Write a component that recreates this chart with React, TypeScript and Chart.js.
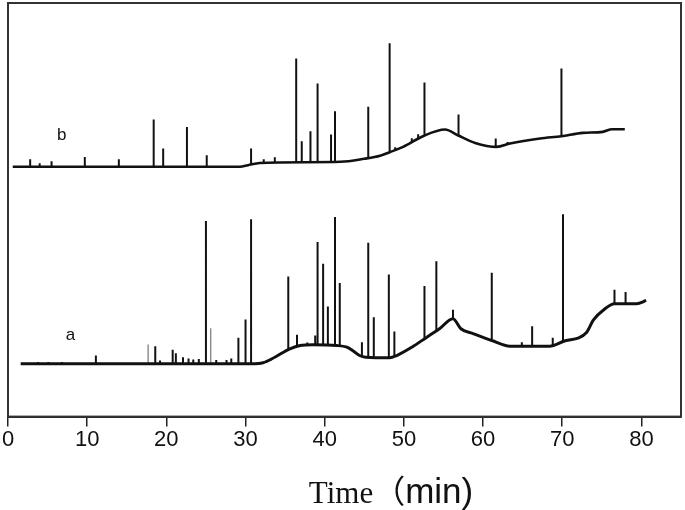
import React, { useEffect, useRef } from "react";
import { Chart, registerables } from "chart.js";

Chart.register(...registerables);

// ---- Data (time in min, signal in arbitrary units) ----
const TIME_MIN = 0;
const TIME_MAX = 85;
const SIGNAL_MAX = 413;
const AXIS_TITLE_PARTS = ["Time", "（", "min)"];

// trace b: baseline
const bBaseT = [0.6, 29.3, 30.3, 31.8, 42.0, 45.0, 47.0, 48.2, 49.9, 52.4, 55.2, 56.8, 59.0, 61.7, 63.4, 67.2, 69.9, 72.6, 75.1, 76.3, 77.9];
const bBaseV = [249.5, 249.5, 251, 253.3, 254.5, 257.5, 260.5, 264, 269.3, 280, 286.7, 281, 273.3, 269.3, 272.7, 277.7, 280, 283.3, 284.3, 287, 287];
// trace b: peaks
const bPeakT = [2.8, 4.0, 5.5, 9.7, 14.0, 18.4, 19.6, 22.6, 25.1, 30.7, 32.3, 33.7, 36.4, 37.1, 38.2, 39.1, 40.8, 41.3, 45.5, 48.2, 48.9, 51.0, 51.8, 52.6, 56.9, 61.6, 63.1, 69.9];
const bPeakBase = [249.5, 249.5, 249.5, 249.5, 249.5, 249.5, 249.5, 249.5, 249.5, 251.5, 253.3, 253.5, 253.8, 254, 254, 254, 254, 254.2, 258.2, 264, 266, 274, 277.5, 280, 281, 269.3, 272, 280];
const bPeakTop = [257, 253, 255, 259.3, 257, 296.7, 267.7, 289.3, 261, 267.7, 257, 259, 357.7, 275, 285, 332.7, 281.7, 305, 309.3, 372.7, 269, 278, 282, 333.7, 301.7, 277.7, 274.3, 347.7];

// trace a: baseline
const aBaseT = [1.6, 30.8, 32.2, 33.7, 35.6, 36.9, 38.5, 41.5, 42.8, 43.6, 44.4, 45.2, 48.2, 49.1, 51.0, 52.9, 54.5, 56.2, 57.2, 58.8, 61.1, 63.4, 68.4, 70.1, 73.1, 73.9, 75.4, 76.6, 79.4, 80.6];
const aBaseV = [52.7, 52.7, 53.7, 59.3, 67.7, 71, 71.7, 71, 69.3, 65.5, 61, 59.3, 58.7, 61, 69.3, 79.3, 87.7, 97.7, 87.7, 82.7, 76, 70.3, 70.3, 75, 84.3, 96, 107.7, 112.7, 112.7, 116];
// trace a: peaks
const aPeakT = [3.8, 5.1, 6.8, 11.1, 18.6, 19.2, 20.8, 21.2, 22.1, 22.8, 23.4, 24.1, 25.0, 26.3, 27.6, 28.2, 29.1, 30.0, 30.7, 33.2, 35.4, 36.5, 37.8, 38.8, 39.1, 39.8, 40.4, 41.3, 41.9, 44.7, 45.5, 46.2, 48.1, 48.8, 52.6, 54.1, 56.2, 61.1, 64.9, 66.2, 68.8, 70.1, 76.6, 78.0];
const aPeakBase = [52.7, 52.7, 52.7, 52.7, 52.7, 52.7, 52.7, 52.7, 52.7, 52.7, 52.7, 52.7, 52.7, 52.7, 52.7, 52.7, 52.7, 52.7, 52.7, 57, 67, 70.5, 71.5, 71.7, 71.6, 71.4, 71.2, 71, 70.5, 60.2, 59.3, 59, 58.7, 60.2, 78, 85.5, 97.7, 76, 70.3, 70.3, 71.3, 75, 112.7, 112.7];
const aPeakTop = [54.5, 54.5, 54.5, 61, 70.3, 56, 66.7, 63.3, 59.3, 58, 57, 57.5, 195.3, 56.5, 56.5, 58, 78.7, 97, 197, 56, 140, 81.7, 74, 81, 174.3, 152.7, 110, 199.3, 133.3, 74.3, 173.7, 99.3, 142, 85, 130.3, 155, 106.7, 143.7, 74.3, 90.3, 78.7, 202, 126.7, 124.3];
// trace a: faint (grey) peaks
const aMinorT = [17.7, 25.6];
const aMinorBase = [52.7, 52.7];
const aMinorTop = [72, 88.3];

// trace labels
const traceLabels = ["a", "b"];
const traceLabelT = [7.9, 6.8];
const traceLabelV = [81, 281];

type Pt = { x: number; y: number | null };

function baseline(ts: number[], vs: number[]): Pt[] {
  return ts.map((t, i) => ({ x: t, y: vs[i] }));
}
function spikes(ts: number[], bases: number[], tops: number[]): Pt[] {
  const out: Pt[] = [];
  ts.forEach((t, i) => {
    out.push({ x: t, y: bases[i] }, { x: t, y: tops[i] }, { x: t, y: null });
  });
  return out;
}

const decorPlugin = {
  id: "decor",
  afterDraw(chart: any) {
    const { ctx, chartArea } = chart;
    const { left, top, right, bottom } = chartArea;
    ctx.save();
    // frame
    ctx.strokeStyle = "#333";
    ctx.lineWidth = 2;
    ctx.strokeRect(left, top, right - left, bottom - top);
    // trace labels
    const xs = chart.scales.x;
    const ys = chart.scales.y;
    ctx.fillStyle = "#111";
    ctx.font = '17px "Liberation Sans", Arial, sans-serif';
    ctx.textAlign = "center";
    ctx.textBaseline = "middle";
    traceLabels.forEach((lab, i) => {
      ctx.fillText(lab, xs.getPixelForValue(traceLabelT[i]), ys.getPixelForValue(traceLabelV[i]));
    });
    // axis title with mixed fonts
    const fonts = [
      '31px "Liberation Serif", "Times New Roman", serif',
      '32px "Noto Sans CJK SC", sans-serif',
      '35px "Liberation Sans", Arial, sans-serif',
    ];
    const widths = AXIS_TITLE_PARTS.map((p, i) => {
      ctx.font = fonts[i];
      return ctx.measureText(p).width;
    });
    const total = widths.reduce((a, b) => a + b, 0);
    const cx = 391;
    let x = cx - total / 2;
    ctx.textAlign = "left";
    ctx.textBaseline = "alphabetic";
    AXIS_TITLE_PARTS.forEach((p, i) => {
      ctx.font = fonts[i];
      ctx.fillText(p, x, 503);
      x += widths[i];
    });
    ctx.restore();
  },
};

export default function App() {
  const ref = useRef<HTMLCanvasElement | null>(null);

  useEffect(() => {
    document.body.style.margin = "0";
    if (!ref.current) return;
    const lineCommon = {
      pointRadius: 0,
      pointHoverRadius: 0,
      fill: false,
      spanGaps: false,
      tension: 0,
    };
    const chart = new Chart(ref.current, {
      type: "line",
      data: {
        datasets: [
          { ...lineCommon, label: "b baseline", data: baseline(bBaseT, bBaseV), borderColor: "#111", borderWidth: 2.6, cubicInterpolationMode: "monotone" },
          { ...lineCommon, label: "b peaks", data: spikes(bPeakT, bPeakBase, bPeakTop), borderColor: "#111", borderWidth: 2 },
          { ...lineCommon, label: "a baseline", data: baseline(aBaseT, aBaseV), borderColor: "#111", borderWidth: 3, cubicInterpolationMode: "monotone" },
          { ...lineCommon, label: "a peaks", data: spikes(aPeakT, aPeakBase, aPeakTop), borderColor: "#111", borderWidth: 2 },
          { ...lineCommon, label: "a minor", data: spikes(aMinorT, aMinorBase, aMinorTop), borderColor: "#888", borderWidth: 1.4 },
        ] as any,
      },
      options: {
        animation: false,
        responsive: false,
        devicePixelRatio: 1,
        events: [],
        layout: { padding: { left: 8, top: 3, right: 4, bottom: 56 } },
        plugins: { legend: { display: false }, tooltip: { enabled: false } },
        scales: {
          x: {
            type: "linear",
            min: TIME_MIN,
            max: TIME_MAX,
            border: { display: true, color: "#222", width: 2 },
            grid: { display: true, drawOnChartArea: false, drawTicks: true, tickLength: 10, color: "#222", lineWidth: 1.5 },
            ticks: {
              stepSize: 10,
              includeBounds: false,
              padding: 0.5,
              color: "#111",
              font: { family: '"Liberation Sans", Arial, sans-serif', size: 22 },
            },
          },
          y: {
            type: "linear",
            display: false,
            min: 0,
            max: SIGNAL_MAX,
          },
        },
      },
      plugins: [decorPlugin],
    });
    return () => chart.destroy();
  }, []);

  return <canvas ref={ref} width={685} height={510} style={{ display: "block" }} />;
}
